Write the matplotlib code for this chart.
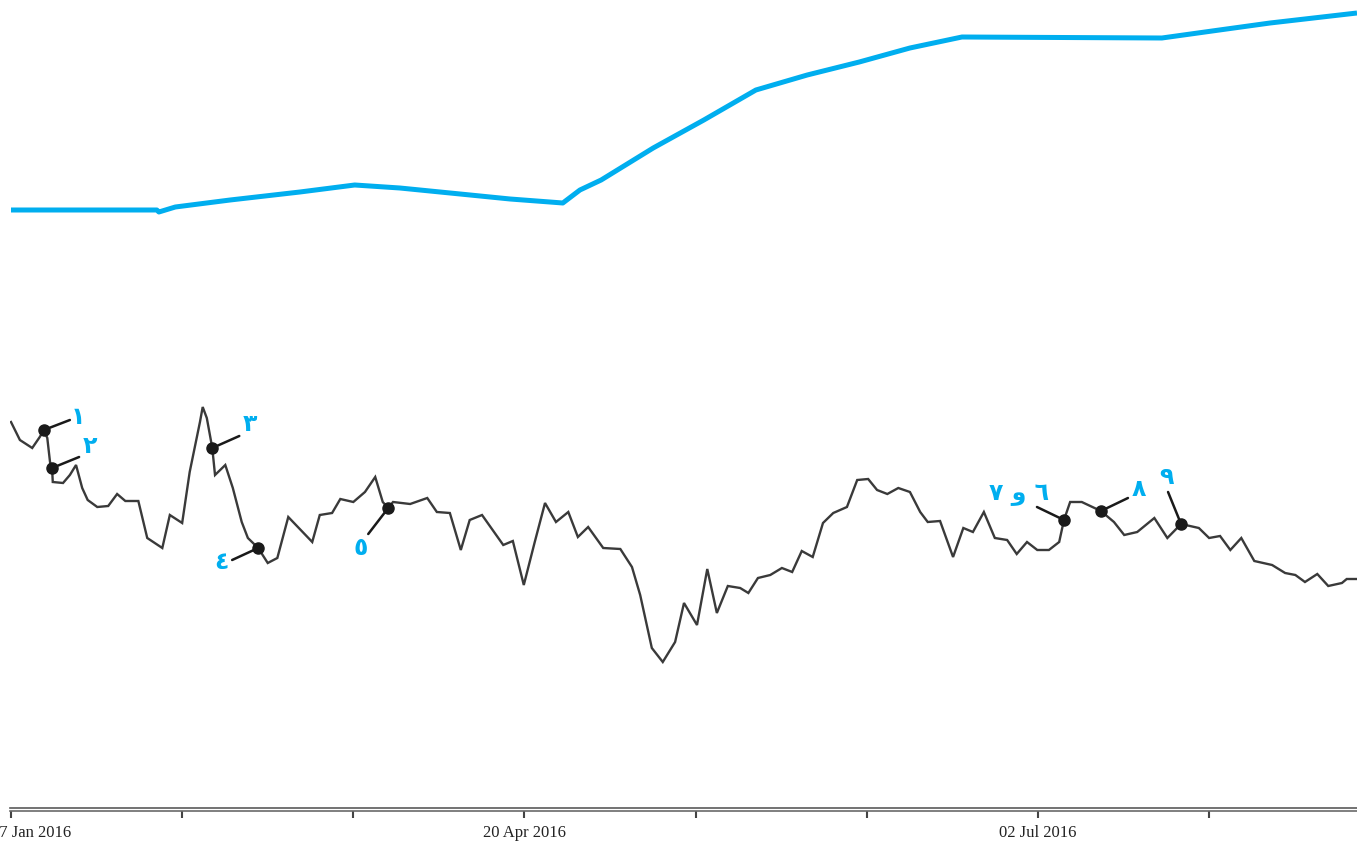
import matplotlib
matplotlib.use("Agg")
import matplotlib.pyplot as plt
import matplotlib.transforms as mtransforms
from matplotlib.lines import Line2D

# ---- data (trading-day index, index level) ----
black_day = [0.0, 1.3, 3.1, 4.2, 4.8, 5.3, 5.7, 6.0, 6.1, 7.6, 8.6, 9.5, 10.4, 11.2, 12.6, 14.2,
             15.5, 16.7, 18.6, 19.9, 22.1, 23.2, 25.0, 26.1, 27.6, 28.0, 28.6, 29.4, 29.8, 31.3,
             32.4, 33.7, 34.6, 36.1, 37.5, 38.9, 40.5, 44.0, 45.1, 46.9, 48.1, 50.0, 51.7, 53.2,
             54.3, 55.1, 55.8, 58.3, 60.8, 62.2, 64.1, 65.7, 67.0, 68.8, 71.9, 73.3, 74.9, 76.5,
             78.0, 79.6, 81.4, 82.8, 84.3, 86.5, 89.0, 90.7, 91.9, 93.6, 95.2, 97.0, 98.3, 100.2,
             101.7, 103.1, 104.7, 106.5, 107.7, 109.1, 110.9, 112.6, 114.1, 115.5, 117.1, 118.6,
             120.1, 122.1, 123.6, 125.2, 126.5, 128.0, 129.6, 131.3, 132.8, 133.9, 135.7, 137.6,
             139.1, 140.5, 142.1, 143.7, 145.5, 146.9, 148.4, 149.9, 151.6, 153.1, 153.8, 154.7,
             156.4, 159.2, 161.1, 162.6, 164.5, 167.0, 168.9, 170.9, 173.5, 175.0, 176.6, 178.1,
             179.7, 181.6, 184.2, 186.1, 187.6, 189.0, 190.8, 192.4, 194.4, 195.1, 196.6]
black_val = [389, 371, 363, 374, 381, 373, 349, 343, 329, 328, 336, 346, 323, 311, 304, 305,
             317, 310, 310, 273, 263, 296, 288, 339, 389, 404, 393, 363, 336, 346,
             323, 289, 273, 263, 248, 253, 294, 269, 296, 298, 312, 309, 319, 334,
             309, 303, 309, 307, 313, 299, 298, 261, 291, 296, 266, 270, 226, 269,
             308, 289, 299, 274, 284, 263, 262, 244, 216, 163, 149, 169, 208, 186,
             242, 198, 225, 223, 218, 233, 236, 243, 239, 260, 254, 288,
             298, 304, 331, 332, 321, 317, 323, 319, 299, 289, 290, 254,
             283, 279, 299, 273, 271, 257, 269, 261, 261, 269, 291, 309,
             309, 300, 289, 276, 279, 293, 273, 287, 283, 273, 275, 261,
             273, 250, 246, 238, 236, 229, 237, 225, 228, 232, 232]

blue_day = [0.0, 21.3, 21.6, 24.0, 32.0, 42.2, 50.2, 56.8, 65.6, 72.9, 78.7, 80.6, 83.1, 86.2,
            93.8, 101.2, 108.8, 116.3, 123.9, 131.3, 138.9, 168.1, 176.5, 183.9, 196.6]
blue_val = [601, 601, 599, 604, 611, 619, 626, 623, 617, 612, 609, 608, 621, 631,
            663, 691, 721, 736, 749, 763, 774, 773, 781, 788, 798]

# events: index into black series, label, leader offset (px), text offset (px)
event_idx = [4, 7, 27, 33, 45, 106, 109, 115]
event_labels = ["١", "٢", "٣", "٤", "٥", "٧ و ٦", "٨", "٩"]
leader_off = [(26, 10), (27, 11), (27, 12), (-26, -12), (-20, -26), (-27, 13), (27, 13), (-13, 32)]
text_off = [(34, 13), (38, 22), (38, 24), (-37, -14), (-28, -40), (-45, 26), (38, 22), (-15, 47)]

tick_pos = [0, 25, 50, 75, 100, 125, 150, 175]
tick_lab = ["07 Jan 2016", "", "", "20 Apr 2016", "", "", "02 Jul 2016", ""]

# ---- figure ----
W, H = 1357, 846
fig = plt.figure(figsize=(W / 100, H / 100), dpi=100)
ax = fig.add_axes([10 / W, (H - 811) / H, (W - 10) / W, 811 / H])
ax.set_xlim(-0.146, 196.6)
ax.set_ylim(0, 811)
for s in ax.spines.values():
    s.set_visible(False)
ax.set_yticks([])

BLUE = "#00AEEF"
ax.plot(blue_day, blue_val, color=BLUE, lw=3.6, solid_capstyle="butt", zorder=2)
ax.plot(black_day, black_val, color="#3a3a3a", lw=1.7, solid_joinstyle="miter", zorder=3)

for i, lab, lo, to in zip(event_idx, event_labels, leader_off, text_off):
    x, y = black_day[i], black_val[i]
    ax.annotate("", xy=(x, y), xytext=lo, textcoords="offset pixels",
                arrowprops=dict(arrowstyle="-", color="#1a1a1a", lw=1.8,
                                shrinkA=0, shrinkB=0), zorder=4)
    ax.plot([x], [y], "o", color="#1a1a1a", ms=8, zorder=5)
    ax.annotate(lab, xy=(x, y), xytext=to, textcoords="offset pixels",
                ha="center", va="center", fontsize=17, fontweight="bold",
                color=BLUE, family=["DejaVu Sans"], zorder=6)

# double baseline
for ypx, c in [(807.5, "#5a5a5a"), (811, "#6a6a6a")]:
    fig.add_artist(Line2D([10 / W, 1.0], [(H - ypx) / H] * 2, color=c, lw=1.2,
                          transform=fig.transFigure))

ax.set_xticks(tick_pos)
ax.set_xticklabels(tick_lab, family="Liberation Serif", fontsize=12, color="#222222")
ax.tick_params(axis="x", direction="out", length=5, width=1.5, color="#444444", pad=5)
first = ax.get_xticklabels()[0]
first.set_ha("left")
first.set_transform(first.get_transform() +
                    mtransforms.ScaledTranslation(-20 / 100, 0, fig.dpi_scale_trans))

fig.savefig("out.png", dpi=100)
